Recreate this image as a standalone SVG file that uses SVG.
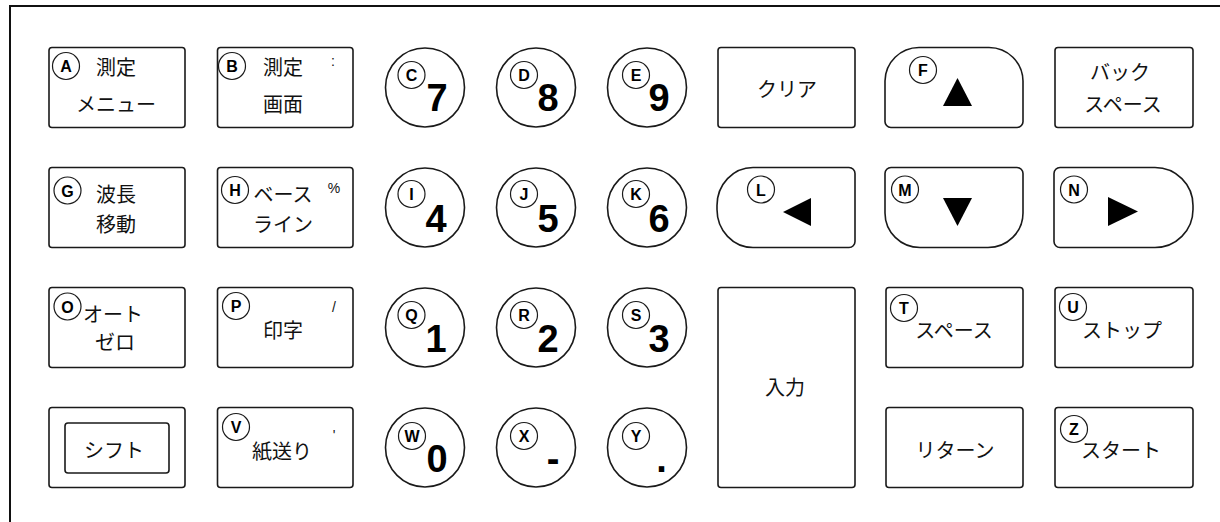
<svg xmlns="http://www.w3.org/2000/svg" width="1220" height="522" viewBox="0 0 1220 522">
<style>
.k{fill:#fff;stroke:#1a1a1a;stroke-width:1.6}
.lc{fill:#fff;stroke:#1a1a1a;stroke-width:1.2}
.lt{font-family:"Liberation Sans",Arial,sans-serif;font-weight:bold;font-size:16px;fill:#000;text-anchor:middle}
.jp{font-family:"Noto Sans CJK JP","Noto Sans",sans-serif;font-size:20px;fill:#111;text-anchor:middle}
.dg{font-family:"Liberation Sans",Arial,sans-serif;font-weight:bold;font-size:38px;fill:#000;text-anchor:middle}
.sm{font-family:"Liberation Sans",Arial,sans-serif;font-size:14px;fill:#111;text-anchor:middle}
.tri{fill:#000}
</style>
<rect width="1220" height="522" fill="#fff"/>
<g id="frame"><path d="M10,522 V6 H1220" fill="none" stroke="#111" stroke-width="2"/></g>
<g id="connectors"></g>

<g id="key-A"><rect class="k" x="49" y="47.5" width="136" height="80" rx="3"/><circle class="lc" cx="66" cy="66" r="13.5"/><text class="lt" x="66" y="72">A</text><text class="jp" x="116" y="75">測定</text><text class="jp" x="116" y="112">メニュー</text></g>
<g id="key-B"><rect class="k" x="217.5" y="47.5" width="135.5" height="80" rx="3"/><circle class="lc" cx="232" cy="66" r="13.5"/><text class="lt" x="232" y="72">B</text><text class="jp" x="283" y="75">測定</text><text class="sm" x="333" y="66">:</text><text class="jp" x="283" y="112">画面</text></g>

<g id="key-C"><circle class="k" cx="425" cy="87.5" r="39.5"/><circle class="lc" cx="411.5" cy="75" r="13.5"/><text class="lt" x="411.5" y="81">C</text><text class="dg" x="437" y="111">7</text></g>
<g id="key-D"><circle class="k" cx="536" cy="87.5" r="39.5"/><circle class="lc" cx="524" cy="75" r="13.5"/><text class="lt" x="524" y="81">D</text><text class="dg" x="548" y="111">8</text></g>
<g id="key-E"><circle class="k" cx="647" cy="87.5" r="39.5"/><circle class="lc" cx="636" cy="75" r="13.5"/><text class="lt" x="636" y="81">E</text><text class="dg" x="659" y="111">9</text></g>

<g id="key-clear"><rect class="k" x="718" y="47.5" width="137" height="80" rx="3"/><text class="jp" x="787" y="97">クリア</text></g>
<g id="key-F"><path class="k" d="M885,121 V81 A34 34 0 0 1 919,47.5 H989 A34 34 0 0 1 1023,81 V121 A6 6 0 0 1 1017,127.5 H891 A6 6 0 0 1 885,121 Z"/><circle class="lc" cx="923" cy="70" r="13.5"/><text class="lt" x="923" y="76">F</text><polygon class="tri" points="957.5,78 943,106 972,106"/></g>
<g id="key-bs"><rect class="k" x="1055" y="47.5" width="138" height="80" rx="3"/><text class="jp" x="1120" y="80">バック</text><text class="jp" x="1123" y="112">スペース</text></g>

<g id="key-G"><rect class="k" x="49" y="167.5" width="136" height="80" rx="3"/><circle class="lc" cx="67.5" cy="190.5" r="13.5"/><text class="lt" x="67.5" y="196.5">G</text><text class="jp" x="116" y="202">波長</text><text class="jp" x="116" y="232">移動</text></g>
<g id="key-H"><rect class="k" x="217.5" y="167.5" width="135.5" height="80" rx="3"/><circle class="lc" cx="235" cy="190" r="13.5"/><text class="lt" x="235" y="196">H</text><text class="jp" x="283" y="202">ベース</text><text class="sm" x="334" y="193">%</text><text class="jp" x="283" y="232">ライン</text></g>

<g id="key-I"><circle class="k" cx="425" cy="207.5" r="39.5"/><circle class="lc" cx="411.5" cy="194" r="13.5"/><text class="lt" x="411.5" y="200">I</text><text class="dg" x="436" y="232">4</text></g>
<g id="key-J"><circle class="k" cx="536" cy="207.5" r="39.5"/><circle class="lc" cx="524" cy="194" r="13.5"/><text class="lt" x="524" y="200">J</text><text class="dg" x="548" y="232">5</text></g>
<g id="key-K"><circle class="k" cx="647" cy="207.5" r="39.5"/><circle class="lc" cx="636" cy="194" r="13.5"/><text class="lt" x="636" y="200">K</text><text class="dg" x="659" y="232">6</text></g>

<g id="key-L"><path class="k" d="M753,167.5 H849 A6 6 0 0 1 855,173.5 V241.5 A6 6 0 0 1 849,247.5 H753 A36 38 0 0 1 717,209.5 V205.5 A36 38 0 0 1 753,167.5 Z"/><circle class="lc" cx="761" cy="189.5" r="13.5"/><text class="lt" x="761" y="195.5">L</text><polygon class="tri" points="783,212 811,198 811,226"/></g>
<g id="key-M"><path class="k" d="M891,167.5 H1017 A6 6 0 0 1 1023,173.5 V213 A35 34.5 0 0 1 988,247.5 H920 A35 34.5 0 0 1 885,213 V173.5 A6 6 0 0 1 891,167.5 Z"/><circle class="lc" cx="905" cy="189.5" r="13.5"/><text class="lt" x="905" y="195.5">M</text><polygon class="tri" points="943,198 972,198 957.5,226"/></g>
<g id="key-N"><path class="k" d="M1060,167.5 H1155 A38 38 0 0 1 1193,205.5 V209.5 A38 38 0 0 1 1155,247.5 H1060 A6 6 0 0 1 1054,241.5 V173.5 A6 6 0 0 1 1060,167.5 Z"/><circle class="lc" cx="1074" cy="189.5" r="13.5"/><text class="lt" x="1074" y="195.5">N</text><polygon class="tri" points="1108,197 1138,211.5 1108,226"/></g>

<g id="key-O"><rect class="k" x="49" y="287.5" width="136" height="80" rx="3"/><circle class="lc" cx="67.5" cy="306.5" r="13.5"/><text class="lt" x="67.5" y="312.5">O</text><text class="jp" x="113" y="322">オート</text><text class="jp" x="115" y="350">ゼロ</text></g>
<g id="key-P"><rect class="k" x="217.5" y="287.5" width="135.5" height="80" rx="3"/><circle class="lc" cx="236" cy="306" r="13.5"/><text class="lt" x="236" y="312">P</text><text class="sm" x="334" y="312">/</text><text class="jp" x="283" y="338">印字</text></g>

<g id="key-Q"><circle class="k" cx="425" cy="327.5" r="39.5"/><circle class="lc" cx="411.5" cy="315" r="13.5"/><text class="lt" x="411.5" y="321">Q</text><text class="dg" x="436" y="352">1</text></g>
<g id="key-R"><circle class="k" cx="536" cy="327.5" r="39.5"/><circle class="lc" cx="524" cy="315" r="13.5"/><text class="lt" x="524" y="321">R</text><text class="dg" x="548" y="352">2</text></g>
<g id="key-S"><circle class="k" cx="647" cy="327.5" r="39.5"/><circle class="lc" cx="636" cy="315" r="13.5"/><text class="lt" x="636" y="321">S</text><text class="dg" x="659" y="352">3</text></g>

<g id="key-enter"><rect class="k" x="718" y="287.5" width="137" height="200" rx="3"/><text class="jp" x="785" y="395">入力</text></g>
<g id="key-T"><rect class="k" x="886" y="287.5" width="137" height="80" rx="3"/><circle class="lc" cx="904" cy="308" r="13.5"/><text class="lt" x="904" y="314">T</text><text class="jp" x="954" y="338">スペース</text></g>
<g id="key-U"><rect class="k" x="1055" y="287.5" width="138" height="80" rx="3"/><circle class="lc" cx="1073" cy="307" r="13.5"/><text class="lt" x="1073" y="313">U</text><text class="jp" x="1122" y="338">ストップ</text></g>

<g id="key-shift"><rect class="k" x="49" y="407.5" width="136" height="80" rx="3"/><rect class="k" x="65" y="423" width="104" height="50" rx="3"/><text class="jp" x="114" y="458">シフト</text></g>
<g id="key-V"><rect class="k" x="217.5" y="407.5" width="135.5" height="80" rx="3"/><circle class="lc" cx="236" cy="427" r="13.5"/><text class="lt" x="236" y="433">V</text><text class="sm" x="334" y="440">'</text><text class="jp" x="282" y="459">紙送り</text></g>

<g id="key-W"><circle class="k" cx="425" cy="447.5" r="39.5"/><circle class="lc" cx="412" cy="436" r="13.5"/><text class="lt" x="412" y="442">W</text><text class="dg" x="437" y="472">0</text></g>
<g id="key-X"><circle class="k" cx="536" cy="447.5" r="39.5"/><circle class="lc" cx="524" cy="436" r="13.5"/><text class="lt" x="524" y="442">X</text><text class="dg" x="553" y="472">-</text></g>
<g id="key-Y"><circle class="k" cx="647" cy="447.5" r="39.5"/><circle class="lc" cx="636" cy="436" r="13.5"/><text class="lt" x="636" y="442">Y</text><text class="dg" x="661.5" y="472">.</text></g>

<g id="key-return"><rect class="k" x="886" y="407.5" width="137" height="80" rx="3"/><text class="jp" x="955" y="458">リターン</text></g>
<g id="key-Z"><rect class="k" x="1055" y="407.5" width="138" height="80" rx="3"/><circle class="lc" cx="1074" cy="429" r="13.5"/><text class="lt" x="1074" y="435">Z</text><text class="jp" x="1121" y="458">スタート</text></g>
</svg>
